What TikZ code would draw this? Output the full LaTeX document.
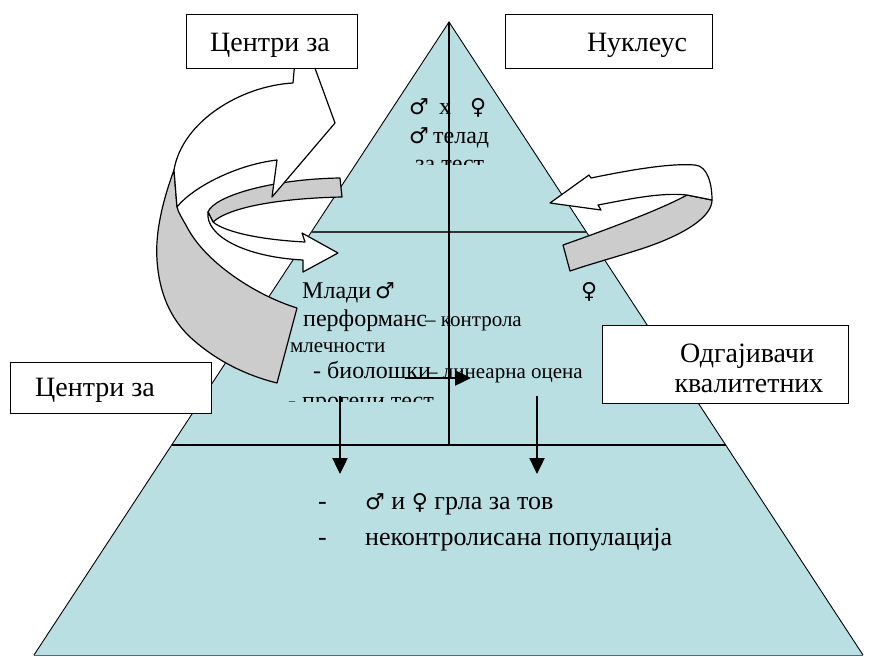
\documentclass[tikz,border=0pt]{standalone}
\usepackage{fontspec}
\setmainfont{Liberation Serif}
\newfontfamily\symfont{DejaVu Sans}
\usetikzlibrary{arrows.meta}
\definecolor{pyr}{RGB}{185,223,227}
\definecolor{bandc}{RGB}{204,204,204}
\newcommand{\ml}{{\symfont\char"2642}}
\newcommand{\fm}{{\symfont\char"2640}}
\tikzset{
  boxst/.style={draw, line width=1pt, fill=white, minimum width=#1},
  bt/.style={anchor=base, inner sep=0pt, font=\fontsize{28}{32}\selectfont},
  tA/.style={anchor=base west, inner sep=0pt, font=\fontsize{24}{28}\selectfont},
  tB/.style={anchor=base west, inner sep=0pt, font=\fontsize{21}{24}\selectfont},
  tC/.style={anchor=base west, inner sep=0pt, font=\fontsize{26}{30}\selectfont},
  sy/.style={anchor=base west, inner sep=0pt, font=\fontsize{22}{24}\selectfont},
  face/.style={draw=black, line width=1.2pt, fill=white, line join=round},
  bandst/.style={draw=black, line width=1.2pt, fill=bandc, line join=round},
  darr/.style={line width=2.4pt, -{Triangle[length=16pt,width=15pt]}},
}
\begin{document}
\begin{tikzpicture}[x=1pt,y=-1pt]
\useasboundingbox (0,0) rectangle (877,656);
% pyramid
\coordinate (apex) at (449,22);
\coordinate (bl) at (34,655);
\coordinate (br) at (863,655);
\fill[pyr] (apex) -- (br) -- (bl) -- cycle;
\draw[black!60, line width=0.8pt] (bl) -- (br);
\draw[line width=0.9pt] (bl) -- (apex) -- (br);
\coordinate (m1) at (311,232); \coordinate (m2) at (587,232);
\coordinate (l1) at (172,445); \coordinate (l2) at (726,445);
\coordinate (vb) at (449,445);
\draw[line width=1.2pt, black!80] (m1) -- (m2);
\draw[line width=1.2pt] (l1) -- (l2);
\draw[line width=1.4pt] (apex) -- (vb);

% top level text
\node[sy] (s1) at (409,114) {\ml};
\node[tA] (x1) at (439,114) {x};
\node[sy] (s2) at (470,114) {\fm};
\node[sy] (s3) at (409,143) {\ml};
\node[tA] (tel) at (433,143) {телад};
\begin{scope}
\clip (380,150) rectangle (520,164);
\node[tA] (zt) at (415,171) {за тест};
\end{scope}

% middle level text
\node[tA] (mladi) at (302,298) {Млади};
\node[sy] (s4) at (375,298) {\ml};
\node[sy] (s5) at (581,298) {\fm};
\node[tA] (perf) at (303,326) {перформанс};
\node[tB] (kont) at (425,326) {– контрола};
\node[tB] (mlec) at (290,352) {млечности};
\node[tA] (bio) at (313,378) {- биолошки};
\node[tB] (lin) at (427,378) {– линеарна оцена};
\begin{scope}
\clip (280,380) rectangle (460,401);
\node[tA] (prog) at (288,408) {- прогени тест};
\end{scope}

% bottom level text
\node[tC] (d1) at (318,509) {-};
\node[tC] (gr) at (365,509) {{\fontsize{22}{24}\symfont\char"2642} и {\fontsize{22}{24}\symfont\char"2640} грла за тов};
\node[tC] (d2) at (318,545) {-};
\node[tC] (nek) at (365,545) {неконтролисана популација};

% small straight arrows
\coordinate (ha) at (405,378); \coordinate (hb) at (471,378);
\draw[darr] (ha) -- (hb);
\coordinate (da1) at (340,396); \coordinate (db1) at (340,474);
\coordinate (da2) at (537,396); \coordinate (db2) at (537,474);
\draw[darr] (da1) -- (db1);
\draw[darr] (da2) -- (db2);

% small left curved arrow (pointing right)
\filldraw[bandst] (340,178) -- (342,197) .. controls (290,198) and (232,205) .. (213,222) -- (208,212) .. controls (214,196) and (272,179) .. (340,178) -- cycle;
\filldraw[face] (208,212) .. controls (205,236) and (245,257) .. (303,260) -- (303,272) -- (338,253) -- (302,233) -- (305,242) .. controls (265,240) and (226,233) .. (213,222) -- cycle;

% big left curved arrow
\filldraw[bandst] (174,170) .. controls (163,200) and (155,232) .. (157,260) .. controls (159,292) and (170,318) .. (190,337) .. controls (215,360) and (245,375) .. (277,383) -- (297,308) .. controls (255,295) and (205,262) .. (187,227) .. controls (182,218) and (178,212) .. (177,207) -- cycle;
\filldraw[face] (312,60) -- (335,123) -- (272,197) -- (277,160) .. controls (235,165) and (192,188) .. (177,207) -- (174,170) .. controls (182,122) and (240,86) .. (293,83) -- (295,60) -- cycle;

% right curved arrow (pointing left)
\filldraw[bandst] (563,245) .. controls (600,232) and (660,210) .. (687,195) -- (712,200) .. controls (712,215) and (690,232) .. (647,247) .. controls (620,256) and (590,264) .. (570,271) -- cycle;
\filldraw[face] (550,203) -- (589,175) -- (591,178) .. controls (630,170) and (670,163) .. (695,165) .. controls (708,166) and (712,185) .. (712,200) -- (687,195) .. controls (660,192) and (625,200) .. (598,205) -- (601,210) -- cycle;

% boxes
\node[boxst=171pt, minimum height=54pt] (bx1) at (271.5,41.5) {};
\node[bt] (t1) at (270,51) {Центри за};
\node[boxst=207pt, minimum height=54pt] (bx2) at (608.5,41.5) {};
\node[bt] (t2) at (637,51) {Нуклеус};
\node[boxst=201pt, minimum height=51pt] (bx3) at (110.5,387.5) {};
\node[bt] (t3) at (95,396) {Центри за};
\node[boxst=246pt, minimum height=78pt] (bx4) at (725,364) {};
\node[bt] (t4) at (747,362) {Одгајивачи};
\node[bt] (t5) at (749,392) {квалитетних};
\end{tikzpicture}
\end{document}
